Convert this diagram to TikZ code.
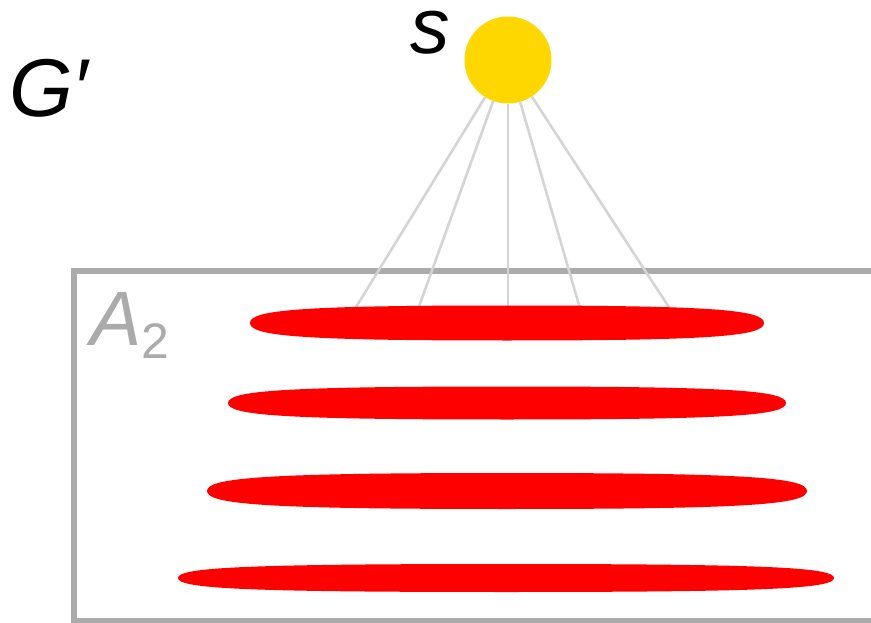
\documentclass[tikz,border=0pt]{standalone}
\usepackage{fontspec}
\setmainfont{Liberation Sans}
\definecolor{boxgray}{HTML}{ABABAB}
\definecolor{linegray}{HTML}{D4D4D4}
\definecolor{sun}{HTML}{FFD700}
\definecolor{blob}{HTML}{FF0000}
% full, slightly boxy ellipse: centre x, centre y, x radius, y radius
\newcommand\redblob[4]{%
  \fill[blobshape] (#1-#3,#2)
    .. controls (#1-#3,#2-0.75*#4) and (#1-0.8*#3,#2-#4) .. (#1,#2-#4)
    .. controls (#1+0.8*#3,#2-#4) and (#1+#3,#2-0.75*#4) .. (#1+#3,#2)
    .. controls (#1+#3,#2+0.75*#4) and (#1+0.8*#3,#2+#4) .. (#1,#2+#4)
    .. controls (#1-0.8*#3,#2+#4) and (#1-#3,#2+0.75*#4) .. (#1-#3,#2) -- cycle;}
\begin{document}
\begin{tikzpicture}[x=1pt,y=-1pt,
  edge/.style={draw=linegray,line width=2.6pt},
  blobshape/.style={fill=blob,draw=none},
  lbl/.style={inner sep=0pt,anchor=base west}]
\useasboundingbox (0,0) rectangle (871,623);
% container
\draw[boxgray,line width=5.5pt] (74,271) rectangle (920,621);
\node[lbl,text=boxgray,font=\fontsize{77}{77}\selectfont\itshape] (a2) at (90,345) {A};
\node[lbl,text=boxgray,font=\fontsize{50}{50}\selectfont] (a2sub) at (141,358) {2};
% source
\node[circle,fill=sun,minimum size=87pt,inner sep=0pt] (s) at (508,60) {};
\node[lbl,font=\fontsize{79}{79}\selectfont\itshape] (slbl) at (410,54) {s};
\node[lbl,font=\fontsize{82}{82}\selectfont\itshape] (g) at (9,117) {G′};
% targets
\coordinate (t1) at (353,312);
\coordinate (t2) at (417,312);
\coordinate (t3) at (508,312);
\coordinate (t4) at (581,312);
\coordinate (t5) at (672,312);
\foreach \t in {t1,t2,t3,t4,t5} \draw[edge] (s) -- (\t);
% red blobs
\redblob{507}{323}{257}{17.5}
\redblob{507}{403}{279}{16.5}
\redblob{507}{491}{300}{18}
\redblob{506}{578}{328}{14}
\end{tikzpicture}
\end{document}
